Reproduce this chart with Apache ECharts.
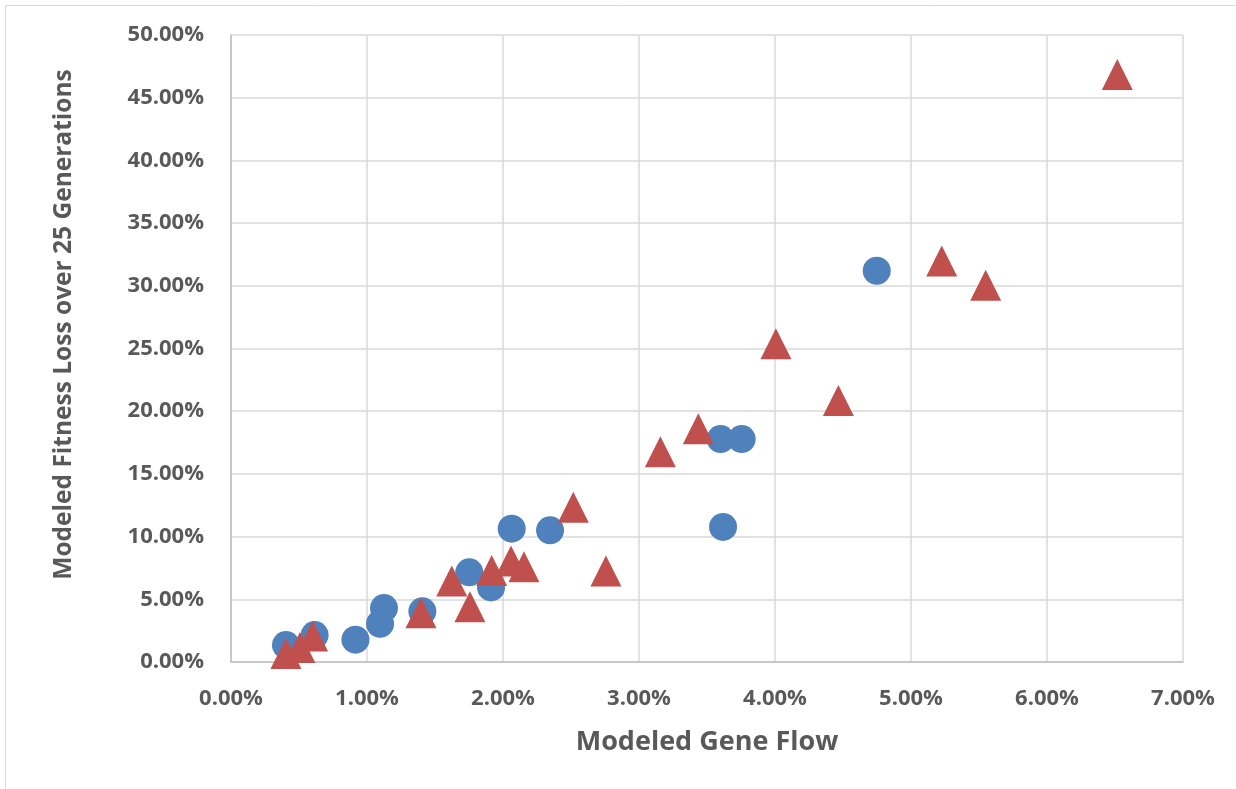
<!DOCTYPE html>
<html>
<head>
<meta charset="utf-8">
<script src="https://cdn.jsdelivr.net/npm/echarts@6/dist/echarts.min.js"></script>
<style>
html,body{margin:0;padding:0;background:#fff;}
#c{width:1236px;height:789px;}
</style>
</head>
<body>
<div id="c"></div>
<script>
// Values in percent
var blueX = [0.404, 0.615, 0.915, 1.096, 1.125, 1.407, 1.752, 1.912, 2.064, 2.346, 3.600, 3.755, 3.618, 4.748];
var blueY = [1.35, 2.15, 1.78, 3.05, 4.30, 4.04, 7.15, 5.95, 10.63, 10.50, 17.78, 17.78, 10.77, 31.20];
var redX = [0.404, 0.507, 0.600, 1.397, 1.623, 1.757, 1.917, 2.059, 2.154, 2.517, 2.757, 3.157, 3.436, 4.007, 4.466, 5.226, 5.549, 6.517];
var redY = [0.68, 1.15, 2.07, 3.93, 6.46, 4.41, 7.30, 8.06, 7.60, 12.34, 7.26, 16.76, 18.60, 25.38, 20.85, 31.98, 30.05, 46.85];
var xTitle = 'Modeled Gene Flow';
var yTitle = 'Modeled Fitness Loss over 25 Generations';

function pairs(xs, ys){ return xs.map(function(x,i){ return [x, ys[i]]; }); }
var fmt = function(v){ return v.toFixed(2) + '%'; };
var labelStyle = { color:'#595959', fontFamily:'Open Sans', fontWeight:'bold', fontSize:22 };
var nameStyleX = { color:'#595959', fontFamily:'Open Sans', fontWeight:'bold', fontSize:27 };
var nameStyleY = { color:'#595959', fontFamily:'Open Sans', fontWeight:'bold', fontSize:24.5, padding:[0,0,0,48] };

var chart = echarts.init(document.getElementById('c'));
chart.setOption({
  animation:false,
  backgroundColor:'#fff',
  graphic:[{type:'rect', shape:{x:5.5,y:5.5,width:1260,height:820}, style:{fill:'none', stroke:'#d9d9d9', lineWidth:1}, silent:true}],
  grid:{left:231, right:53, top:35, bottom:127},
  xAxis:{
    type:'value', min:0, max:7, interval:1,
    name:xTitle, nameLocation:'middle', nameGap:67, nameTextStyle:nameStyleX,
    axisLine:{show:true, lineStyle:{color:'#bfbfbf', width:1.5}},
    axisTick:{show:false},
    axisLabel:Object.assign({formatter:fmt, margin:26}, labelStyle),
    splitLine:{show:true, lineStyle:{color:'#d9d9d9', width:1.5}}
  },
  yAxis:{
    type:'value', min:0, max:50, interval:5,
    name:yTitle, nameLocation:'middle', nameGap:154, nameTextStyle:nameStyleY,
    axisLine:{show:true, lineStyle:{color:'#bfbfbf', width:1.5}},
    axisTick:{show:false},
    axisLabel:Object.assign({formatter:fmt, margin:27}, labelStyle),
    splitLine:{show:true, lineStyle:{color:'#d9d9d9', width:1.5}}
  },
  series:[
    {type:'scatter', symbol:'circle', symbolSize:28, itemStyle:{color:'#4F81BD', opacity:1}, data:pairs(blueX, blueY)},
    {type:'scatter', symbol:'triangle', symbolSize:[31,31], itemStyle:{color:'#C0504D', opacity:1}, data:pairs(redX, redY)}
  ]
});
</script>
</body>
</html>
